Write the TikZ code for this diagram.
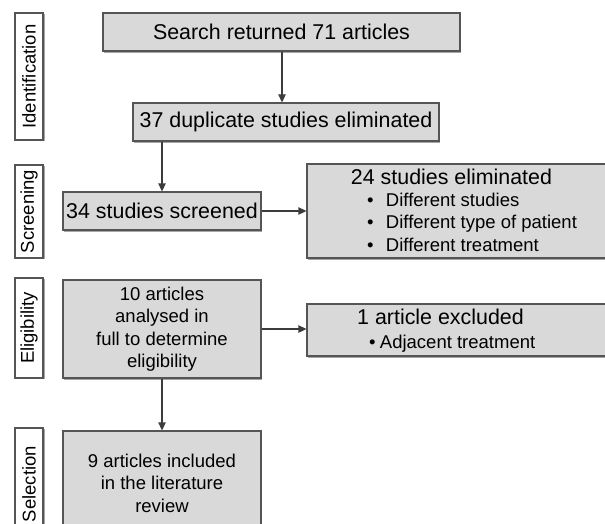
\documentclass[tikz,border=0pt]{standalone}
\usepackage{fontspec}
\setmainfont{Liberation Sans}
\usetikzlibrary{arrows.meta,shadows,calc}
\definecolor{boxfill}{RGB}{217,217,217}
\definecolor{boxline}{RGB}{85,85,85}
\definecolor{conn}{RGB}{60,60,60}
\begin{document}
\begin{tikzpicture}[x=1pt,y=-1pt,
  graybox/.style={draw=boxline, line width=1.3pt, fill=boxfill, inner sep=0pt,
    drop shadow={shadow xshift=1pt, shadow yshift=-1.6pt, fill=black, opacity=0.35},
    font=\fontsize{21.4}{25}\selectfont, align=center},
  sidebox/.style={draw=boxline, line width=1.3pt, fill=white, inner sep=0pt, rotate=90,
    drop shadow={shadow xshift=1.6pt, shadow yshift=-1pt, fill=black, opacity=0.35},
    minimum height=28pt, font=\fontsize{18.5}{22}\selectfont},
  small/.style={font=\fontsize{18.5}{22.5}\selectfont},
  big/.style={font=\fontsize{21.4}{25}\selectfont},
  txt/.style={inner sep=0pt, text height=13.5pt, text depth=0pt},
  arrow/.style={draw=conn, line width=1.3pt, -{Triangle[width=7.5pt,length=8pt]}}
]
\useasboundingbox (0,0) rectangle (605,524);
\begin{scope}
\clip (0,0) rectangle (605,524);
% side labels
\node[sidebox, minimum width=127pt] (ident) at (29,76.5) {Identification};
\node[sidebox, minimum width=93pt] (screen) at (29,211.5) {Screening};
\node[sidebox, minimum width=100pt] (elig) at (29,328) {Eligibility};
\node[sidebox, minimum width=112pt] (sel) at (29,484) {Selection};
% main boxes
\node[graybox, minimum width=357pt, minimum height=38pt] (search) at (281.5,32) {Search returned 71 articles};
\node[graybox, minimum width=306pt, minimum height=38pt] (dup) at (286,122) {37 duplicate studies eliminated};
\node[graybox, minimum width=198pt, minimum height=38pt] (scr) at (162,211) {34 studies screened};
\node[graybox, minimum width=318pt, minimum height=94pt] (elim) at (466,211) {};
\node[graybox, small, minimum width=198pt, minimum height=98pt] (full) at (162,329) {10 articles\\analysed in\\full to determine\\eligibility};
\node[graybox, minimum width=318pt, minimum height=52pt] (excl) at (466,330) {};
\node[graybox, small, minimum width=198pt, minimum height=104pt] (incl) at (162,483) {9 articles included\\in the literature\\review};
% texts of the right boxes
\node[txt, big] (elimh) at (451.5,178) {24 studies eliminated};
\node[txt, small, anchor=west] (e1) at (366.8,200) {•\hspace{12.5pt}Different studies};
\node[txt, small, anchor=west] (e2) at (366.8,222) {•\hspace{12.5pt}Different type of patient};
\node[txt, small, anchor=west] (e3) at (366.8,245) {•\hspace{12.5pt}Different treatment};
\node[txt, big] (exclh) at (440.5,318) {1 article excluded};
\node[txt, small, anchor=west] (x1) at (368.8,342) {•\hspace{4.5pt}Adjacent treatment};
\end{scope}
% connectors
\draw[arrow] (search.south -| 282,0) -- (dup.north -| 282,0);
\draw[arrow] (dup.south -| scr.north) -- (scr.north);
\draw[arrow] (scr.east) -- (scr.east -| elim.west);
\draw[arrow] (full.south) -- (incl.north);
\draw[arrow] (full.east) -- (full.east -| excl.west);
\end{tikzpicture}
\end{document}
